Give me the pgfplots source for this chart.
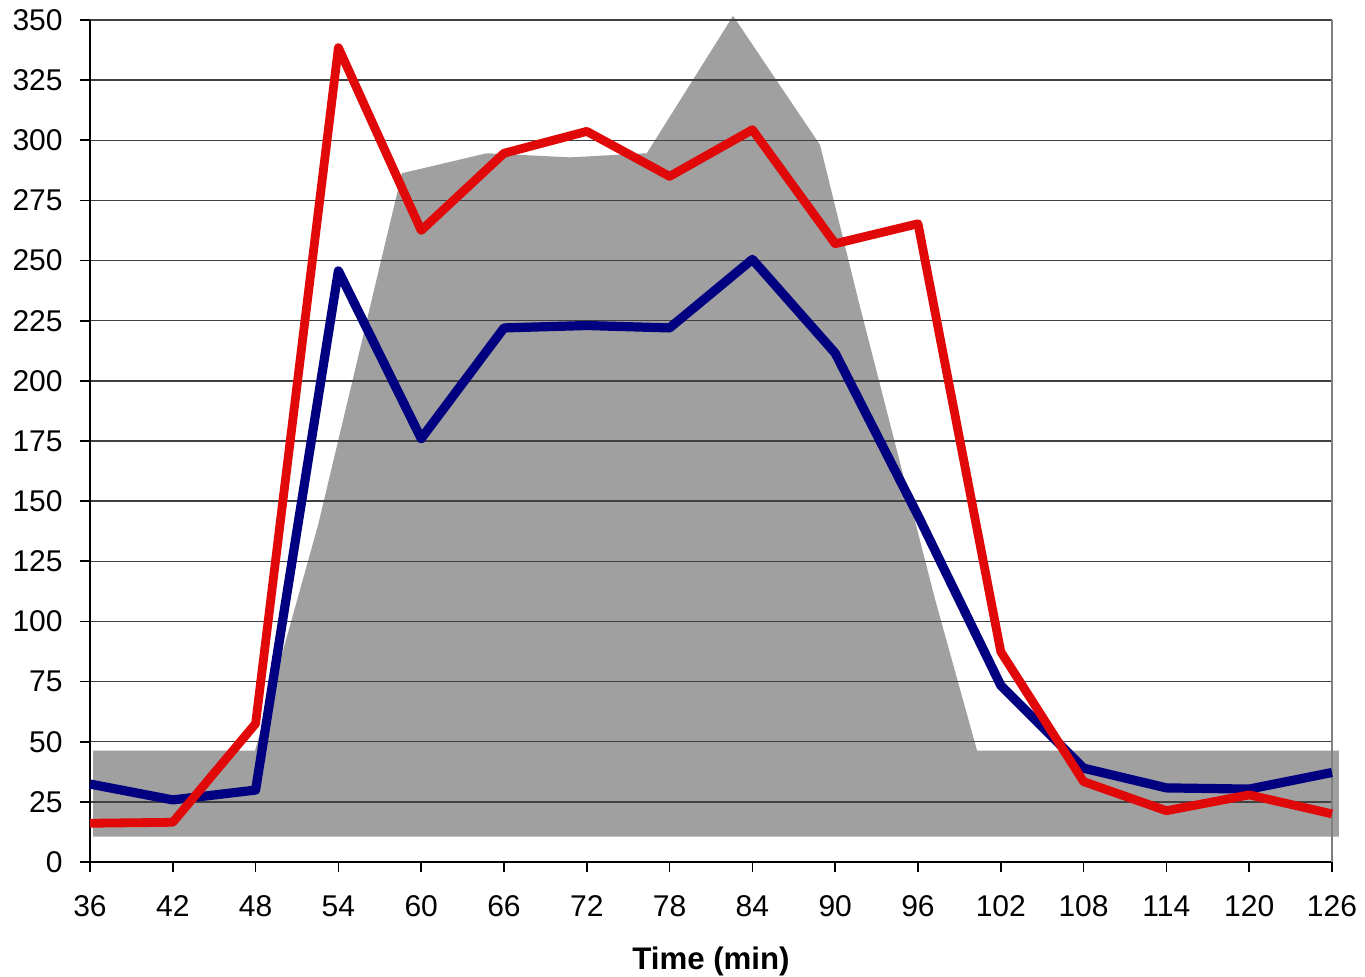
\documentclass[border=0pt]{standalone}
\usepackage{fontspec}
\setmainfont{Liberation Sans}
\usepackage{pgfplots}
\pgfplotsset{compat=1.18}
\definecolor{grayarea}{RGB}{160,160,160}
\definecolor{navyline}{RGB}{0,0,128}
\definecolor{redline}{RGB}{224,8,8}
\begin{document}
\begin{tikzpicture}
\begin{axis}[
  set layers,
  scale only axis, width=621pt, height=421pt,
  xmin=36, xmax=126, ymin=0, ymax=350,
  xtick={36,42,...,126}, ytick={0,25,...,350},
  axis x line*=bottom, axis y line*=left,
  axis line style={black, line width=0.8pt},
  tick align=outside, major tick length=5pt,
  tick style={black, line width=0.8pt},
  ymajorgrids, grid style={black!75, line width=0.7pt},
  clip=false,
  /pgf/number format/assume math mode=true,
  tick label style={font=\fontsize{15}{18}\selectfont, inner sep=0pt},
  yticklabel style={anchor=east, xshift=-8.5pt},
  xticklabel style={anchor=north, yshift=-11.5pt},
  xlabel={\textbf{Time (min)}},
  xlabel style={font=\fontsize{15.6}{18}\selectfont, inner sep=0pt, at={(0.5,-0.128)}, anchor=base},
  line join=round,
]
\addplot[on layer=axis background, fill=grayarea, draw=none] coordinates {
 (36.22,10.5) (36.22,46.3) (47.96,46.3) (52.53,140.1) (58.6,286.3)
 (64.75,294.6) (70.8,292.9) (76.35,294.6) (82.6,351.7) (88.9,298.1)
 (91.67,233.7) (97.25,108.9) (100.28,46.3) (126.5,46.3) (126.5,10.5)
} -- cycle;
\draw[on layer=axis grid, black!50, line width=0.8pt] (rel axis cs:1,0) -- (rel axis cs:1,1);
\addplot[navyline, line width=4.6pt] coordinates {
 (36,32.4) (42,25.8) (48,29.9) (54,245.7) (60,176) (66,222) (72,223)
 (78,222) (84,250.5) (90,211.5) (96,144) (102,73.4) (108,39) (114,30.8)
 (120,30.3) (126,37.2)
};
\addplot[redline, line width=4.4pt] coordinates {
 (36,16.1) (42,16.5) (48,57.5) (54,338.5) (60,262.5) (66,294.6) (72,303.7)
 (78,285) (84,304.4) (90,257) (96,265.3) (102,87.4) (108,33.4) (114,21.3)
 (120,27.9) (126,20)
};
\end{axis}
\pgfresetboundingbox
\useasboundingbox (-45pt,-57.5pt) rectangle (637.5pt,431pt);
\end{tikzpicture}
\end{document}
